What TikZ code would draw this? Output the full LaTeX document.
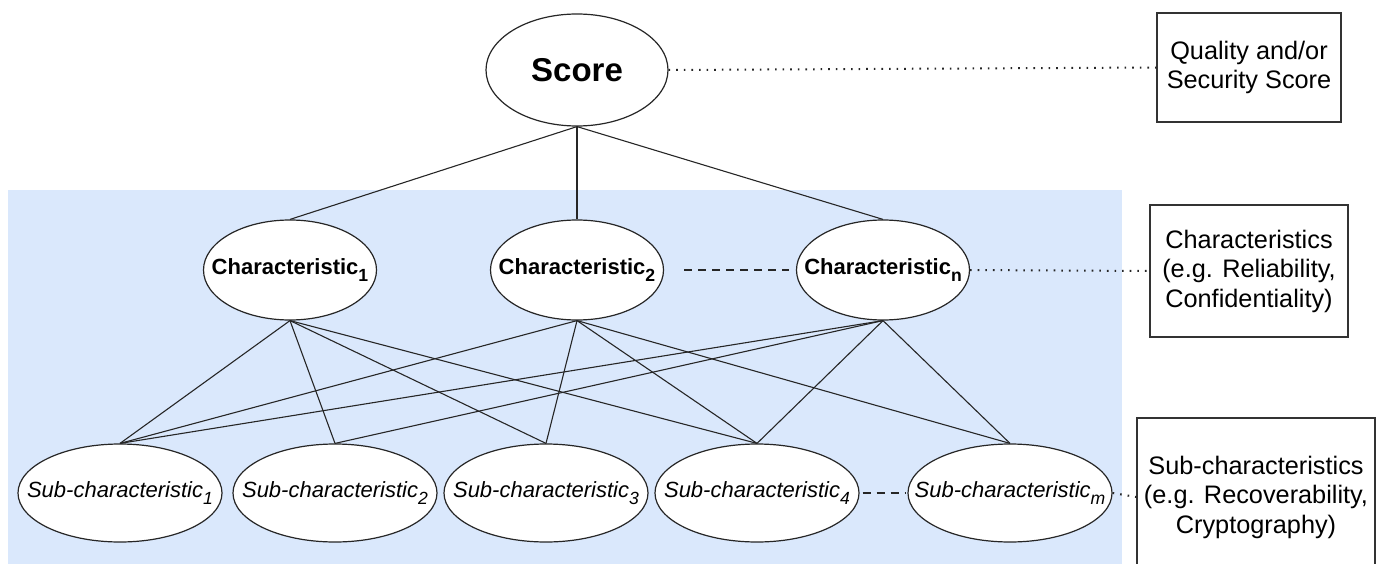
\documentclass[tikz,border=0pt]{standalone}
\usepackage{fontspec}
\setmainfont{Liberation Sans}
\usetikzlibrary{shapes.geometric}
\definecolor{bluebg}{HTML}{DAE8FC}
\newcommand\lsub[1]{\raisebox{-0.3em}{\scalebox{0.8}{#1}}}
\begin{document}
\begin{tikzpicture}[x=1pt,y=-1pt,
  ell/.style={ellipse, draw=black!85, line width=1.2pt, fill=white, inner sep=0pt},
  scorenode/.style={ell, minimum width=182pt, minimum height=112pt, font=\fontsize{33}{38}\selectfont\bfseries},
  cnode/.style={ell, minimum width=173pt, minimum height=100pt, font=\fontsize{22}{26}\selectfont\bfseries},
  snode/.style={ell, minimum width=204pt, minimum height=98pt, font=\fontsize{22}{26}\selectfont\itshape},
  lbox/.style={draw=black!80, line width=1.2pt, fill=white, align=center, inner sep=0pt, font=\fontsize{25.3}{29.5}\selectfont},
  edge/.style={line width=1.1pt, draw=black!85},
  dotline/.style={line width=2pt, dash pattern=on 1.6pt off 6pt, black!85},
  dashline/.style={line width=2.5pt, dash pattern=on 8pt off 6pt, black!85}]
\clip (0,0) rectangle (1380,564);
\fill[bluebg] (8,190) rectangle (1122,600);

\node[scorenode] (score) at (577,70) {\makebox[0pt]{Score}};
\node[cnode] (c1) at (290,270) {\makebox[0pt]{Characteristic\lsub{1}}};
\node[cnode] (c2) at (577,270) {\makebox[0pt]{Characteristic\lsub{2}}};
\node[cnode] (cn) at (883,270) {\makebox[0pt]{Characteristic\lsub{n}}};
\node[snode] (s1) at (120,493) {\makebox[0pt]{Sub-characteristic\lsub{1}}};
\node[snode] (s2) at (335,493) {\makebox[0pt]{Sub-characteristic\lsub{2}}};
\node[snode] (s3) at (546,493) {\makebox[0pt]{Sub-characteristic\lsub{3}}};
\node[snode] (s4) at (757,493) {\makebox[0pt]{Sub-characteristic\lsub{4}}};
\node[snode] (sm) at (1010,493) {\makebox[0pt]{Sub-characteristic\lsub{m}}};

\node[lbox, minimum width=184pt, minimum height=109pt] (qb) at (1249,67.5) {Quality and/or\\Security Score};
\node[lbox, minimum width=198pt, minimum height=132pt] (cb) at (1249,271) {Characteristics\\(e.g. Reliability,\\Confidentiality)};
\node[lbox, minimum width=238pt, minimum height=158pt] (sb) at (1256,497) {Sub-characteristics\\(e.g. Recoverability,\\Cryptography)};

\foreach \c in {c1,c2,cn} \draw[edge] (score.south) -- (\c.north);
\foreach \s in {s1,s2,s3,s4} \draw[edge] (c1.south) -- (\s.north);
\foreach \s in {s1,s3,s4,sm} \draw[edge] (c2.south) -- (\s.north);
\foreach \s in {s1,s2,s4,sm} \draw[edge] (cn.south) -- (\s.north);

\draw[dashline, shorten <=20pt, shorten >=7pt] (c2.east) -- (cn.west);
\draw[dashline, shorten <=3pt, shorten >=2pt] (s4.east) -- (sm.west);
\draw[dotline] (score.east) -- (qb.west);
\draw[dotline] (cn.east) -- (cb.west);
\draw[dotline] (sm.east) -- (sb.west);
\end{tikzpicture}
\end{document}
